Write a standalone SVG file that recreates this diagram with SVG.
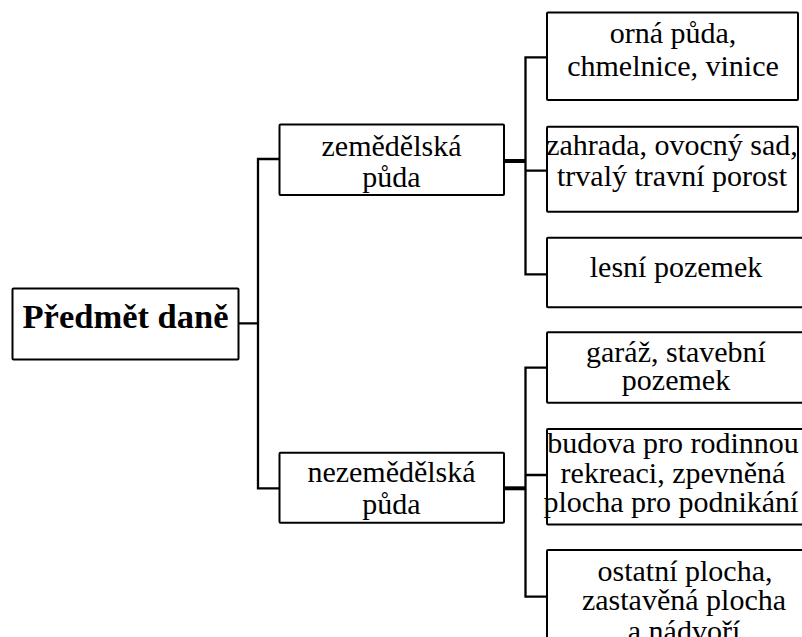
<svg xmlns="http://www.w3.org/2000/svg" width="802" height="637" viewBox="0 0 802 637">
<style>
.box{fill:#fff;stroke:#000;stroke-width:2}
.t{font-family:"Liberation Serif","Times New Roman",serif;font-size:30px;fill:#000;text-anchor:middle}
.b{font-weight:bold;font-size:34.5px}
.c{fill:none;stroke:#000;stroke-width:2.3}
.thick{fill:none;stroke:#000;stroke-width:4}
</style>
<rect width="802" height="637" fill="#fff"/>
<g id="connectors">
<path class="c" d="M238.3 323.3H258M279.5 159H258V488.3H279.5"/>
<path class="thick" d="M504 161H526"/>
<path class="c" d="M547 57.3H525.5V274.3H547M525.5 170.7H547"/>
<path class="thick" d="M504 488.3H526"/>
<path class="c" d="M547 367.7H525.5V596.7H547M525.5 475H547"/>
</g>
<g id="root">
<rect class="box" x="12.5" y="288.5" width="226" height="71" rx="1"/>
<text class="t b" x="125.5" y="328">Předmět daně</text>
</g>
<g id="zemedelska">
<rect class="box" x="279.5" y="124.5" width="224.5" height="70.5" rx="1"/>
<text class="t" x="391.5" y="156">zemědělská</text>
<text class="t" x="391.5" y="186.5">půda</text>
</g>
<g id="nezemedelska">
<rect class="box" x="279.5" y="452.7" width="224.5" height="70" rx="1"/>
<text class="t" x="391.5" y="481.5">nezemědělská</text>
<text class="t" x="391.5" y="513.5">půda</text>
</g>
<g id="orna">
<rect class="box" x="547" y="12.5" width="251" height="87.5" rx="1"/>
<text class="t" x="673" y="42.7">orná půda,</text>
<text class="t" x="673" y="76">chmelnice, vinice</text>
</g>
<g id="zahrada">
<rect class="box" x="547" y="126.7" width="251" height="85" rx="1"/>
<text class="t" x="672" y="155">zahrada, ovocný sad,</text>
<text class="t" x="672" y="186">trvalý travní porost</text>
</g>
<g id="lesni">
<rect class="box" x="547" y="237.7" width="262" height="69.6" rx="1"/>
<text class="t" x="676" y="276.5">lesní pozemek</text>
</g>
<g id="garaz">
<rect class="box" x="547" y="332.3" width="262" height="70.4" rx="1"/>
<text class="t" x="676" y="361.7">garáž, stavební</text>
<text class="t" x="676" y="390">pozemek</text>
</g>
<g id="budova">
<rect class="box" x="547" y="429" width="262" height="95.5" rx="1"/>
<text class="t" x="673" y="453.3">budova pro rodinnou</text>
<text class="t" x="673" y="483">rekreaci, zpevněná</text>
<text class="t" x="671" y="511.7">plocha pro podnikání</text>
</g>
<g id="ostatni">
<rect class="box" x="547" y="550" width="280" height="120" rx="1"/>
<text class="t" x="685" y="580.5">ostatní plocha,</text>
<text class="t" x="684" y="610">zastavěná plocha</text>
<text class="t" x="684" y="641">a nádvoří</text>
</g>
</svg>
